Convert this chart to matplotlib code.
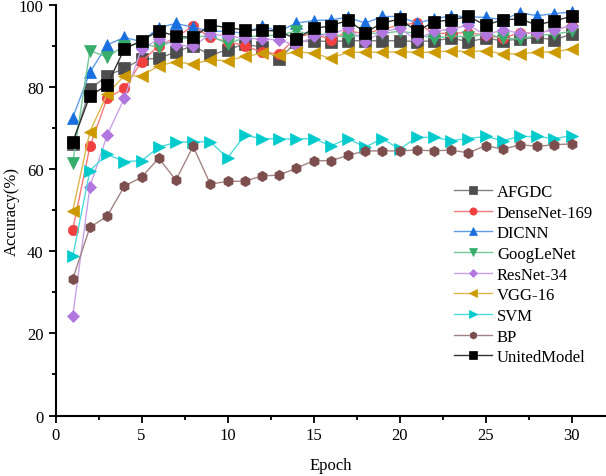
import matplotlib
matplotlib.use("Agg")
import matplotlib.pyplot as plt
from matplotlib.ticker import MultipleLocator

plt.rcParams['font.family'] = ['Liberation Serif', 'DejaVu Serif']

epochs = list(range(1, 31))

afgdc = [66.0, 79.4, 82.7, 84.5, 86.7, 86.9, 88.5, 90.0, 87.7, 89.0,
         90.4, 89.6, 86.7, 91.0, 91.2, 91.0, 91.2, 91.2, 91.2, 91.2,
         91.0, 91.2, 91.8, 91.0, 91.8, 91.2, 91.6, 92.0, 91.4, 92.8]
densenet = [45.2, 65.5, 77.2, 79.6, 86.1, 90.0, 92.0, 94.8, 92.0, 91.0,
            90.0, 88.4, 88.0, 92.0, 93.0, 91.4, 93.5, 93.0, 94.0, 95.0,
            95.5, 93.0, 93.0, 93.2, 92.5, 91.8, 93.2, 93.0, 94.0, 94.8]
dicnn = [72.5, 83.5, 90.2, 92.0, 91.0, 94.4, 95.4, 94.5, 93.5, 93.5,
         93.0, 94.8, 93.5, 95.5, 96.1, 96.3, 96.9, 95.5, 97.1, 97.1,
         95.5, 96.5, 97.3, 97.0, 96.9, 96.3, 98.0, 97.3, 97.8, 98.2]
googlenet = [61.5, 88.8, 87.2, 90.0, 90.5, 89.6, 91.5, 92.0, 92.5, 90.4,
             92.0, 92.5, 92.5, 93.6, 92.5, 93.0, 91.8, 93.0, 93.0, 93.5,
             93.0, 91.6, 92.5, 92.0, 93.0, 91.8, 91.6, 92.5, 92.8, 93.5]
resnet = [24.1, 55.7, 68.2, 77.2, 89.2, 91.6, 90.2, 89.8, 92.8, 92.4,
          91.8, 91.6, 91.4, 90.0, 92.3, 92.8, 94.2, 91.0, 93.4, 94.2,
          91.4, 93.6, 94.0, 95.0, 92.6, 93.9, 93.0, 93.0, 93.9, 94.8]
vgg = [49.8, 69.1, 78.2, 82.7, 82.6, 85.1, 86.1, 85.5, 86.6, 86.3,
       87.4, 88.1, 87.7, 88.5, 88.2, 86.9, 88.4, 88.4, 88.4, 88.5,
       88.4, 88.4, 88.8, 88.5, 88.8, 88.0, 88.0, 88.4, 88.5, 89.2]
svm = [38.7, 59.6, 63.6, 61.8, 62.0, 65.3, 66.5, 66.6, 66.6, 62.7,
       68.2, 67.4, 67.3, 67.3, 67.4, 65.6, 67.4, 65.3, 67.4, 64.8,
       67.7, 67.7, 66.9, 67.4, 67.9, 66.9, 67.9, 67.9, 67.4, 68.1]
bp = [33.2, 45.8, 48.5, 55.8, 58.0, 62.6, 57.3, 65.5, 56.3, 57.0,
      57.0, 58.3, 58.5, 60.2, 62.0, 62.0, 63.3, 64.4, 64.4, 64.4,
      64.6, 64.4, 64.6, 63.9, 65.7, 64.8, 65.9, 65.5, 65.9, 66.1]
united = [66.6, 77.8, 80.4, 89.2, 91.2, 93.6, 92.3, 92.0, 95.0, 94.4,
          93.8, 93.8, 93.5, 91.6, 94.2, 94.8, 96.2, 93.2, 95.5, 96.5,
          93.5, 95.8, 96.3, 97.1, 95.0, 96.3, 96.5, 95.0, 96.1, 97.1]

# name, values, marker, marker colour, line colour
series = [
    ("AFGDC", afgdc, "s", "#4d4d4d", "#808080"),
    ("DenseNet-169", densenet, "o", "#f14040", "#f47a7a"),
    ("DICNN", dicnn, "^", "#1a6fdf", "#5f9be9"),
    ("GoogLeNet", googlenet, "v", "#37ad6b", "#72c797"),
    ("ResNet-34", resnet, "D", "#b177de", "#c8a2e8"),
    ("VGG-16", vgg, "<", "#cc9900", "#dbb84d"),
    ("SVM", svm, ">", "#00cbcc", "#4ddbdc"),
    ("BP", bp, "h", "#7d4e4e", "#a38484"),
    ("UnitedModel", united, "s", "#000000", "#333333"),
]

fig = plt.figure(figsize=(6.06, 4.77), dpi=100)
ax = fig.add_axes([0.0916, 0.1268, 0.9084, 0.8615])

for name, vals, mk, mcol, lcol in series:
    ms = 8
    if mk in ("o", "h"):
        ms = 7.5
    if mk == "D":
        ms = 6.5
    ax.plot(epochs, vals, color=lcol, linewidth=1.0, marker=mk, markersize=ms,
            markerfacecolor=mcol, markeredgecolor=mcol, markeredgewidth=0.5,
            label=name)

ax.set_xlim(0, 32)
ax.set_ylim(0, 100)
ax.xaxis.set_major_locator(MultipleLocator(5))
ax.xaxis.set_minor_locator(MultipleLocator(2.5))
ax.yaxis.set_major_locator(MultipleLocator(20))
ax.yaxis.set_minor_locator(MultipleLocator(10))
ax.tick_params(which="major", direction="out", length=5, width=1.3, labelsize=12)
ax.tick_params(which="minor", direction="out", length=3, width=1.3)
for side in ("top", "right"):
    ax.spines[side].set_visible(False)
for side in ("left", "bottom"):
    ax.spines[side].set_linewidth(1.5)

ax.set_xlabel("Epoch", fontsize=12)
ax.set_ylabel("Accuracy(%)", fontsize=12)
ax.yaxis.set_label_coords(-0.064, 0.5)
ax.xaxis.set_label_coords(0.5, -0.1)

ax.legend(loc="upper left", bbox_to_anchor=(0.702, 0.592), frameon=False,
          fontsize=12, handlelength=2.3, handletextpad=0.3, labelspacing=0.28,
          markerscale=0.7, borderpad=0.2)

fig.savefig("out.png", dpi=100)
